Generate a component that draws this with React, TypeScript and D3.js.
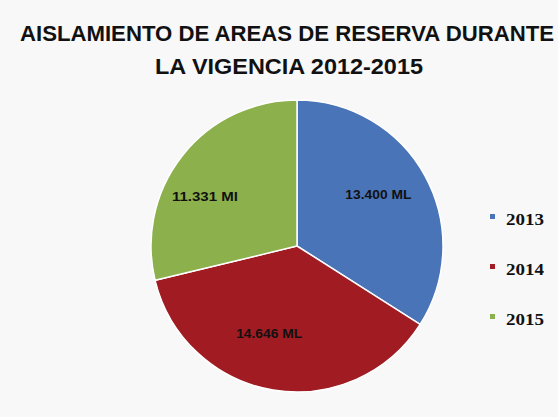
import React from "react";
import * as d3 from "d3";

const categories = ["2013", "2014", "2015"];
const values = [13.4, 14.646, 11.331];
const valueLabels = ["13.400  ML", "14.646  ML", "11.331  Ml"];
const colors = ["#4a74b8", "#a01c22", "#8cb04c"];
const titleLines = ["AISLAMIENTO  DE AREAS DE RESERVA DURANTE", "LA VIGENCIA 2012-2015"];

export default function App() {
  const W = 558, H = 417;
  const cx = 297, cy = 246, r = 146;
  const pie = d3.pie<number>().sort(null).value((d) => d)(values);
  const arc = d3.arc<d3.PieArcDatum<number>>().innerRadius(0).outerRadius(r);
  const labelArc = d3.arc<d3.PieArcDatum<number>>().innerRadius(r * 0.62).outerRadius(r * 0.62);
  const legendY = d3.scalePoint<string>().domain(categories).range([218, 318]);
  return (
    <svg width={W} height={H} style={{ position: "absolute", left: 0, top: 0, background: "#f8f8f8" }}>
      <rect width={W} height={H} fill="#f8f8f8" />
      <text x={287} y={41} textAnchor="middle" fontFamily="Liberation Sans Narrow, Liberation Sans, Arial" fontWeight="bold" fontSize={22} fill="#111" textLength={534} lengthAdjust="spacingAndGlyphs">{titleLines[0]}</text>
      <text x={289} y={74} textAnchor="middle" fontFamily="Liberation Sans Narrow, Liberation Sans, Arial" fontWeight="bold" fontSize={22} fill="#111" textLength={268} lengthAdjust="spacingAndGlyphs">{titleLines[1]}</text>
      <g transform={`translate(${cx},${cy})`}>
        {pie.map((p, i) => (
          <path key={i} d={arc(p) || ""} fill={colors[i]} stroke="#ffffff" strokeWidth={1.5} />
        ))}
        {pie.map((p, i) => {
          const c = labelArc.centroid(p);
          const adj = [[2, -7], [-13, -1], [-21, 7]][i];
          return (
            <text key={i} x={c[0] + adj[0]} y={c[1] + adj[1]} textAnchor="middle" dominantBaseline="central" fontFamily="Liberation Sans, Arial" fontWeight="bold" fontSize={12.5} fill="#111" textLength={66} lengthAdjust="spacingAndGlyphs">{valueLabels[i]}</text>
          );
        })}
      </g>
      {categories.map((c, i) => (
        <g key={c}>
          <rect x={490} y={(legendY(c) as number) - 4} width={5} height={5} fill={colors[i]} />
          <text x={506} y={(legendY(c) as number) + 1} dominantBaseline="central" fontFamily="Liberation Serif, Times New Roman, serif" fontWeight="bold" fontSize={16} fill="#111" textLength={38} lengthAdjust="spacingAndGlyphs">{c}</text>
        </g>
      ))}
    </svg>
  );
}
